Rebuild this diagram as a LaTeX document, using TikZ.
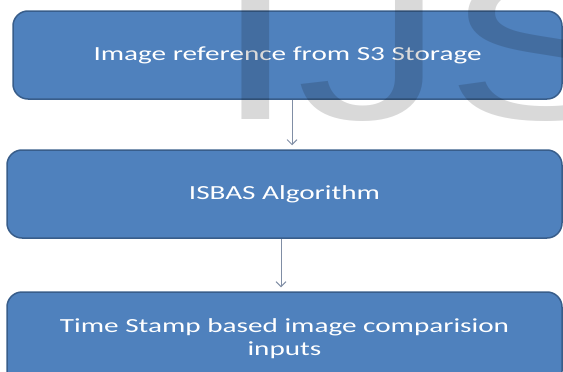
\documentclass[tikz,border=0pt]{standalone}
\usepackage{fontspec}
\usetikzlibrary{arrows.meta}
\newfontfamily\boxfont[FakeStretch=1.46]{Carlito}
\newfontfamily\markfont{Liberation Sans}
\definecolor{boxblue}{RGB}{79,129,189}
\definecolor{boxedge}{RGB}{56,93,138}
\definecolor{arrowgray}{RGB}{128,142,165}
\begin{document}
\begin{tikzpicture}[x=1pt, y=-1pt,
      stage/.style={rectangle, rounded corners=15pt, draw=boxedge, line width=1.5pt,
        fill=boxblue, text=white, align=center, inner sep=0pt,
        font=\boxfont\fontsize{20}{23}\selectfont},
      flow/.style={draw=arrowgray, line width=0.9pt, shorten >=4pt,
        -{Straight Barb[length=5pt,width=10pt]}}]
      \useasboundingbox (0,0) rectangle (563,372);
      \clip (0,0) rectangle (563,372);
      \node[stage, minimum width=549pt, minimum height=88pt] (storage) at (287.5,55) {Image reference from S3 Storage};
      \node[stage, minimum width=555pt, minimum height=88pt] (isbas) at (284.5,194) {ISBAS Algorithm};
      \node[stage, minimum width=555pt, minimum height=94pt] (compare) at (284.5,339) {Time Stamp based image comparision\\inputs};
      \draw[flow] ([xshift=4.5pt]storage.south) -- ([xshift=4.5pt]storage.south |- isbas.north);
      \draw[flow] ([xshift=-3.5pt]isbas.south) -- ([xshift=-3.5pt]isbas.south |- compare.north);
      % watermark
      \node[anchor=base west, inner sep=0pt, text=black, text opacity=0.15,
        font=\markfont\fontsize{205}{205}\selectfont] (mark) at (214,119) {\scalebox{1.45}[1]{IJS}};
\end{tikzpicture}
\end{document}
